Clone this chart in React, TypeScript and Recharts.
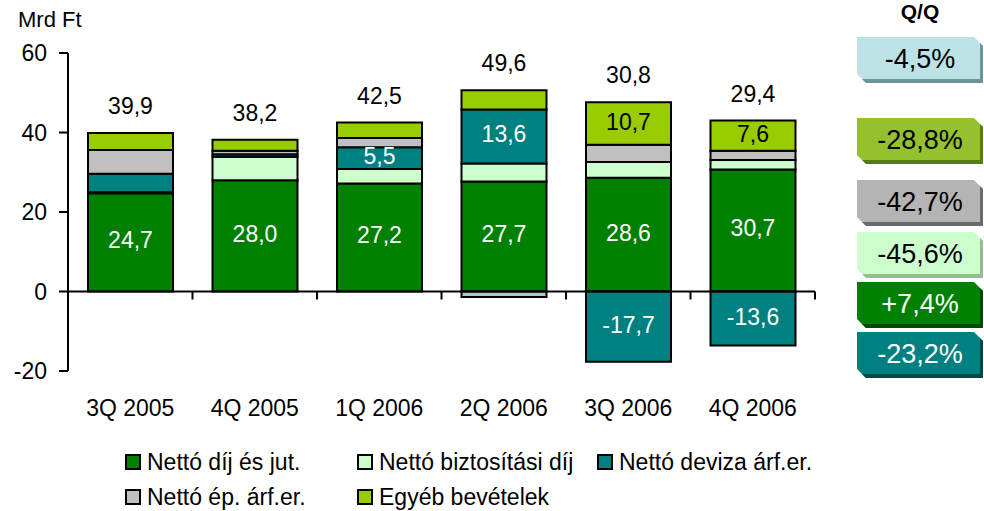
import { BarChart, Bar, XAxis, YAxis, ReferenceLine, LabelList } from "recharts";

const FONT = '"Liberation Sans", Arial, sans-serif';

// quarters on the x axis
const categories = ["3Q 2005", "4Q 2005", "1Q 2006", "2Q 2006", "3Q 2006", "4Q 2006"];

// Mrd Ft
const dijJut = [24.7, 28.0, 27.2, 27.7, 28.6, 30.7];
const biztositas = [0.3, 5.9, 3.6, 4.5, 4.0, 2.4];
const deviza = [4.6, 0.6, 5.5, 13.6, -17.7, -13.6];
const epArf = [6.0, 0.9, 2.3, -1.4, 4.3, 2.3];
const egyeb = [4.3, 2.8, 3.9, 4.8, 10.7, 7.6];
const totals = [39.9, 38.2, 42.5, 49.6, 30.8, 29.4];

// only some segments carry a value label
const devizaLabels = [null, null, "5,5", "13,6", "-17,7", "-13,6"];
const egyebLabels = [null, null, null, null, "10,7", "7,6"];

const yTicks = [-20, 0, 20, 40, 60];

// Q/Q change boxes on the right
const qqLabels = ["-4,5%", "-28,8%", "-42,7%", "-45,6%", "+7,4%", "-23,2%"];

const series = [
  { key: "dij", name: "Nettó díj és jut.", color: "#008000" },
  { key: "bizt", name: "Nettó biztosítási díj", color: "#CCFFCC" },
  { key: "deviza", name: "Nettó deviza árf.er.", color: "#008080" },
  { key: "ep", name: "Nettó ép. árf.er.", color: "#C0C0C0" },
  { key: "egyeb", name: "Egyéb bevételek", color: "#99CC00" },
];

const data = categories.map((q, i) => ({
  q,
  dij: dijJut[i],
  bizt: biztositas[i],
  deviza: deviza[i],
  ep: epArf[i],
  egyeb: egyeb[i],
  total: totals[i],
  devizaLabel: devizaLabels[i],
  egyebLabel: egyebLabels[i],
}));

const fmt = (v: any) => (typeof v === "number" ? v.toFixed(1).replace(".", ",") : v);

function box(props: any) {
  const vb = props.viewBox && props.viewBox.width != null ? props.viewBox : props;
  return { x: vb.x, y: vb.y, width: vb.width, height: vb.height };
}

const centerLabel = (fill: string) => (props: any) => {
  if (props.value == null) return null;
  const { x, y, width, height } = box(props);
  return (
    <text
      x={x + width / 2}
      y={y + height / 2 - 2}
      fill={fill}
      textAnchor="middle"
      dominantBaseline="central"
      fontSize={23}
      fontFamily={FONT}
    >
      {fmt(props.value)}
    </text>
  );
};

const totalLabel = (props: any) => {
  const { x, y, width, height } = box(props);
  const top = Math.min(y, y + height);
  return (
    <text
      x={x + width / 2}
      y={top - 27}
      fill="#000"
      textAnchor="middle"
      dominantBaseline="central"
      fontSize={23}
      fontFamily={FONT}
    >
      {fmt(props.value)}
    </text>
  );
};

const ZeroAxis = (props: any) => {
  const { x1, x2, y1 } = props;
  const step = (x2 - x1) / categories.length;
  return (
    <g>
      <line x1={x1} y1={y1} x2={x2} y2={y1} stroke="#000" strokeWidth={2} />
      {[...categories, ""].map((_, i) => (
        <line key={i} x1={x1 + i * step} y1={y1} x2={x1 + i * step} y2={y1 + 8} stroke="#000" strokeWidth={2} />
      ))}
    </g>
  );
};

const CatTick = (props: any) => {
  const { x, y, payload } = props;
  return (
    <text x={x} y={y + 37} textAnchor="middle" dominantBaseline="central" fontSize={23} fontFamily={FONT} fill="#000">
      {payload.value}
    </text>
  );
};

const qqStyles = [
  { bg: "#BCE2E6", dark: "#6E9296", fg: "#000" },
  { bg: "#96C12E", dark: "#587A12", fg: "#000" },
  { bg: "#B4B4B4", dark: "#6A6A6A", fg: "#000" },
  { bg: "#CCFFCC", dark: "#96BC96", fg: "#000" },
  { bg: "#008000", dark: "#004A00", fg: "#fff" },
  { bg: "#008080", dark: "#004848", fg: "#fff" },
];
const qqTops = [37, 118, 180, 232, 282, 332];

export default function App() {
  return (
    <div style={{ position: "absolute", left: 0, top: 0, width: 984, height: 511, fontFamily: FONT, background: "#fff" }}>
      <div style={{ position: "absolute", left: 18, top: 8, fontSize: 22, lineHeight: "24px" }}>Mrd Ft</div>

      <BarChart
        width={984}
        height={511}
        data={data}
        stackOffset="sign"
        margin={{ top: 53, right: 169, bottom: 100, left: 8 }}
      >
        <XAxis
          dataKey="q"
          axisLine={false}
          tickLine={false}
          tickSize={0}
          tickMargin={0}
          height={40}
          tick={<CatTick />}
          interval={0}
        />
        <YAxis
          width={60}
          domain={[-20, 60]}
          ticks={yTicks}
          interval={0}
          axisLine={{ stroke: "#000", strokeWidth: 2 }}
          tickLine={{ stroke: "#000", strokeWidth: 2 }}
          tickSize={9}
          tickMargin={12}
          tick={{ fill: "#000", fontSize: 23, fontFamily: FONT }}
        />
        {series.map((s) => (
          <Bar
            key={s.key}
            dataKey={s.key}
            name={s.name}
            stackId="a"
            fill={s.color}
            stroke="#000"
            strokeWidth={2}
            barSize={85}
            isAnimationActive={false}
          >
            {s.key === "dij" && <LabelList dataKey="dij" content={centerLabel("#fff")} />}
            {s.key === "deviza" && <LabelList dataKey="devizaLabel" content={centerLabel("#fff")} />}
            {s.key === "egyeb" && <LabelList dataKey="egyebLabel" content={centerLabel("#000")} />}
            {s.key === "egyeb" && <LabelList dataKey="total" content={totalLabel} />}
          </Bar>
        ))}
        <ReferenceLine y={0} shape={<ZeroAxis />} />
      </BarChart>

      {/* Q/Q boxes */}
      <div style={{ position: "absolute", left: 857, top: 0, width: 126, textAlign: "center", fontWeight: "bold", fontSize: 21, lineHeight: "24px" }}>
        Q/Q
      </div>
      {qqLabels.map((t, i) => (
        <div
          key={t}
          style={{
            position: "absolute",
            left: 857,
            top: qqTops[i],
            width: 126,
            height: 46,
            background: qqStyles[i].bg,
            color: qqStyles[i].fg,
            boxShadow: `inset -3px -4px 0 ${qqStyles[i].dark}`,
            clipPath: "polygon(0 0, calc(100% - 9px) 0, 100% 9px, 100% 100%, 9px 100%, 0 calc(100% - 9px))",
            fontSize: 27,
            lineHeight: "44px",
            textAlign: "center",
          }}
        >
          {t}
        </div>
      ))}

      {/* legend */}
      {series.map((s, i) => {
        const col = i < 3 ? i : i - 3;
        const row = i < 3 ? 0 : 1;
        const lefts = [125, 357, 597];
        return (
          <div
            key={s.key}
            style={{
              position: "absolute",
              left: lefts[col],
              top: 449 + row * 35,
              display: "flex",
              alignItems: "center",
              fontSize: 23,
              lineHeight: "26px",
              whiteSpace: "nowrap",
            }}
          >
            <span style={{ width: 12, height: 12, background: s.color, border: "2px solid #000", marginRight: 6, display: "inline-block" }} />
            {s.name}
          </div>
        );
      })}
    </div>
  );
}
